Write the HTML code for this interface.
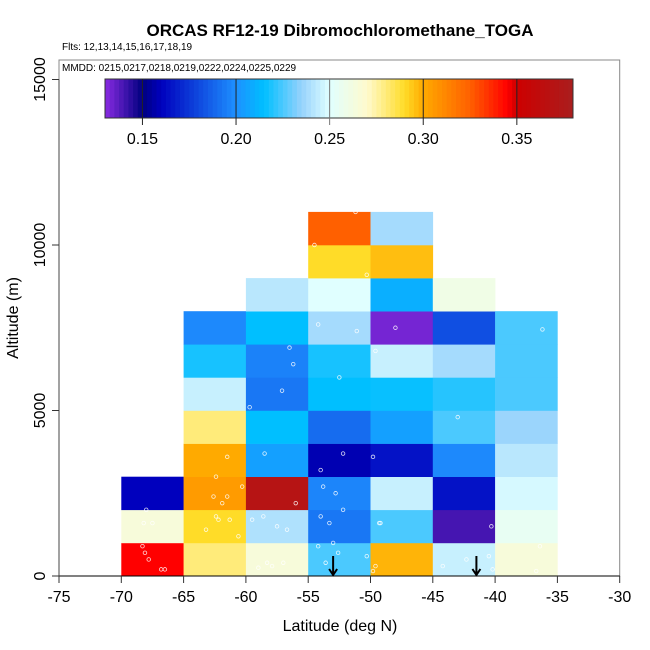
<!DOCTYPE html>
<html><head><meta charset="utf-8"><style>
body{margin:0;background:#fff}
svg{display:block;font-family:"Liberation Sans",Arial,sans-serif}
</style></head><body>
<svg id="c" width="650" height="650" xmlns="http://www.w3.org/2000/svg">
<text x="340" y="36" text-anchor="middle" font-size="17" font-weight="bold">ORCAS RF12-19 Dibromochloromethane_TOGA</text>
<text x="62" y="50" font-size="10">Flts: 12,13,14,15,16,17,18,19</text>
<g id="plot"></g>
</svg>
<script>
const lonEdges=[-70,-65,-60,-55,-50,-45,-40];
// values per column, bins of 1000 m starting at 0
const colVals=[
 [0.345,0.265,0.160],
 [0.280,0.290,0.305,0.300,0.280,0.245,0.218,0.198],
 [0.265,0.240,0.370,0.205,0.215,0.193,0.196,0.215,0.242],
 [0.225,0.193,0.197,0.158,0.190,0.215,0.218,0.238,0.250,0.290,0.325],
 [0.298,0.225,0.245,0.165,0.205,0.216,0.245,0.133,0.210,0.296,0.238],
 [0.245,0.140,0.165,0.198,0.225,0.220,0.238,0.182,0.260],
 [0.265,0.255,0.248,0.242,0.236,0.225,0.225,0.225]
];
const xTicks=[-75,-70,-65,-60,-55,-50,-45,-40,-35,-30];
const yTicks=[0,5000,10000,15000];
const cbTicks=[0.15,0.20,0.25,0.30,0.35];
const ptLat=[-68.3,-68.1,-67.8,-66.8,-66.5,-68.0,-68.2,-67.5,-63.2,-62.4,-61.3,-60.6,-62.6,-61.9,-60.3,-59.5,-58.6,-57.5,-56.7,-58.3,-57.9,-59.0,-57.0,-54.2,-53.6,-53.0,-52.6,-54.0,-53.3,-52.2,-54.0,-53.8,-52.8,-50.3,-49.6,-49.8,-49.3,-44.2,-42.3,-40.5,-40.2,-36.4,-36.7,-62.4,-61.5,-58.5,-56.0,-52.2,-49.8,-43.0,-40.3,-62.2,-61.5,-57.1,-56.2,-59.7,-52.5,-54.2,-51.1,-48.0,-36.2,-56.5,-49.6,-50.3,-54.5,-51.2,-49.2];
const ptAlt=[900,700,500,200,200,2000,1600,1600,1400,1800,1700,1200,2400,2200,2700,1700,1800,1500,1400,400,300,250,400,900,400,1000,700,1800,1600,2000,3200,2700,2500,600,300,150,1600,300,500,600,200,900,150,3000,3600,3700,2200,3700,3600,4800,1500,1700,2400,5600,6400,5100,6000,7600,7400,7500,7450,6900,6800,9100,10000,11000,1600];
const NS='http://www.w3.org/2000/svg';
const X0=59,Y0=576,PX=62.3/5,PY=33.1/1000;
const xs=v=>X0+(v+75)*PX, ys=v=>Y0-v*PY;
const stops=[[0.13,[138,43,226]],[0.15,[0,0,128]],[0.16,[0,0,190]],[0.20,[30,144,255]],[0.215,[0,191,255]],[0.235,[150,210,252]],[0.25,[224,255,255]],[0.27,[255,250,205]],[0.29,[255,220,40]],[0.30,[255,170,0]],[0.325,[255,96,0]],[0.345,[255,0,0]],[0.35,[205,0,0]],[0.38,[170,30,30]]];
function cmap(v){if(v<=stops[0][0])return 'rgb('+stops[0][1]+')';
 for(let i=1;i<stops.length;i++){if(v<=stops[i][0]){const a=stops[i-1],b=stops[i],t=(v-a[0])/(b[0]-a[0]);return 'rgb('+a[1].map((c,k)=>Math.round(c+(b[1][k]-c)*t)).join(',')+')';}}
 return 'rgb('+stops[stops.length-1][1]+')';}
const g=document.getElementById('plot');
function el(t,a,p){const e=document.createElementNS(NS,t);for(const k in a)e.setAttribute(k,a[k]);(p||g).appendChild(e);return e;}
colVals.forEach((col,i)=>col.forEach((v,j)=>{
 const r=el('rect',{x:xs(lonEdges[i]),y:ys((j+1)*1000),width:xs(lonEdges[i]+5)-xs(lonEdges[i])+0.3,height:ys(j*1000)-ys((j+1)*1000)+0.3,fill:cmap(v)});
 
 
}));
ptLat.forEach((la,i)=>{const c=el('circle',{cx:xs(la),cy:ys(ptAlt[i]),r:1.8,fill:'none',stroke:'#fff','stroke-width':0.8,opacity:0.85});
 
 });
[-53,-41.5].forEach(la=>{const a=el('path',{d:`M${xs(la)} 556 V575 M${xs(la)-4} 569 L${xs(la)} 575 L${xs(la)+4} 569`,stroke:'#000','stroke-width':2,fill:'none'});
 
 });
const bx=el('rect',{x:59,y:60,width:xs(-30)-59,height:516,fill:'none',stroke:'#888','stroke-width':1});


el('line',{x1:59,y1:576,x2:xs(-30),y2:576,stroke:'#000'});
el('line',{x1:59,y1:ys(0),x2:59,y2:ys(15000),stroke:'#444'});
const mm=el('text',{x:62,y:71,'font-size':10});mm.textContent='MMDD: 0215,0217,0218,0219,0222,0224,0225,0229';


xTicks.forEach(v=>{el('line',{x1:xs(v),y1:576,x2:xs(v),y2:583,stroke:'#333'});
 const t=el('text',{x:xs(v),y:602,'font-size':16,'text-anchor':'middle'});t.textContent=v;
 
 });
yTicks.forEach(v=>{el('line',{x1:52,y1:ys(v),x2:59,y2:ys(v),stroke:'#333'});
 const t=el('text',{x:45,y:ys(v),'font-size':16,'text-anchor':'middle',transform:`rotate(-90 45 ${ys(v)})`});t.textContent=v;
 
 });
const xl=el('text',{x:340,y:631,'font-size':16,'text-anchor':'middle'});xl.textContent='Latitude (deg N)';


const yl=el('text',{x:18,y:318,'font-size':16,'text-anchor':'middle',transform:'rotate(-90 18 318)'});yl.textContent='Altitude (m)';


const CB0=105,CB1=573,V0=0.13,V1=0.38,cbx=v=>CB0+(v-V0)/(V1-V0)*(CB1-CB0);
const cb=el('g',{});
for(let v=V0;v<V1;v+=0.0025){el('rect',{x:cbx(v),y:79,width:cbx(v+0.0025)-cbx(v)+0.4,height:39,fill:cmap(v+0.00125)},cb);}
el('rect',{x:CB0,y:79,width:CB1-CB0,height:39,fill:'none',stroke:'#333'},cb);
cbTicks.forEach(v=>{el('line',{x1:cbx(v),y1:79,x2:cbx(v),y2:125,stroke:v==0.25?'#777':'#222'},cb);
 const t=el('text',{x:cbx(v),y:144,'font-size':16,'text-anchor':'middle'},cb);t.textContent=v.toFixed(2);
 
 });
</script>
</body></html>
